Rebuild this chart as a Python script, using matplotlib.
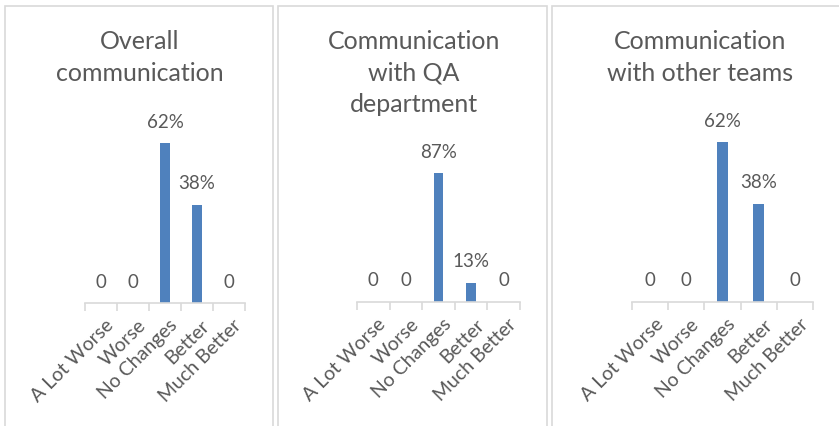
import matplotlib
matplotlib.use("Agg")
import matplotlib.pyplot as plt
from matplotlib.patches import Rectangle

W, H = 839, 426
DPI = 100

categories = ["A Lot Worse", "Worse", "No Changes", "Better", "Much Better"]
overall = [0, 0, 0.62, 0.38, 0]
qa_dept = [0, 0, 0.87, 0.13, 0]
other_teams = [0, 0, 0.62, 0.38, 0]
titles = ["Overall\ncommunication",
          "Communication\nwith QA\ndepartment",
          "Communication\nwith other teams"]

BAR = "#4F81BD"
TXT = "#595959"
GRID = "#D9D9D9"
FONT = ["Lato", "DejaVu Sans"]

fig = plt.figure(figsize=(W / DPI, H / DPI), dpi=DPI)
plt.rcParams["font.family"] = FONT


def px_axes(x0, x1, base, top):
    # pixel coords (from top-left) -> figure fraction
    return fig.add_axes([x0 / W, 1 - base / H, (x1 - x0) / W, (base - top) / H])


def frame(x0, x1, y0=6.5):
    fig.patches.append(Rectangle((x0 / W, -0.05), (x1 - x0) / W, 1.05 - y0 / H,
                                 transform=fig.transFigure, fill=False,
                                 edgecolor=GRID, linewidth=1.2))


# panel borders
frame(5, 273)
frame(278, 547)
frame(552, 845)

# (x0, x1, baseline, ymax, title centre x)
panels = [
    (85, 245, 303, 0.7, 140),
    (357, 520, 302, 1.0, 414),
    (632, 813, 302, 0.7, 700),
]
series = [overall, qa_dept, other_teams]

for (x0, x1, base, ymax, tx), vals, title in zip(panels, series, titles):
    scale = 258 if ymax < 1 else 148
    ax = px_axes(x0, x1, base, base - scale * ymax)
    xs = range(len(categories))
    ax.bar(xs, vals, width=0.3, color=BAR)
    ax.set_xlim(-0.5, len(categories) - 0.5)
    ax.set_ylim(0, ymax)
    for s in ["top", "right", "left"]:
        ax.spines[s].set_visible(False)
    ax.spines["bottom"].set_color(GRID)
    ax.spines["bottom"].set_linewidth(1.2)
    ax.set_yticks([])
    # boundary ticks between categories
    ax.set_xticks([i - 0.5 for i in range(len(categories) + 1)])
    ax.set_xticklabels([])
    ax.tick_params(axis="x", length=6, color=GRID, width=1.2)
    ax.set_xticks([i + 0.12 for i in xs], minor=True)
    ax.set_xticklabels(categories, minor=True, rotation=45, ha="right",
                       rotation_mode="anchor", fontsize=14, color=TXT)
    ax.tick_params(axis="x", which="minor", length=0, pad=10)
    for i, v in enumerate(vals):
        lab = f"{round(v * 100)}%" if v > 0 else "0"
        ax.annotate(lab, (i, v), xytext=(0, 9), textcoords="offset points",
                    ha="center", va="bottom", fontsize=13.5, color=TXT)
    fig.text(tx / W, 1 - 30 / H, title, ha="center", va="top", fontsize=18,
             color=TXT, linespacing=1.45)

fig.savefig("out.png", dpi=DPI)
